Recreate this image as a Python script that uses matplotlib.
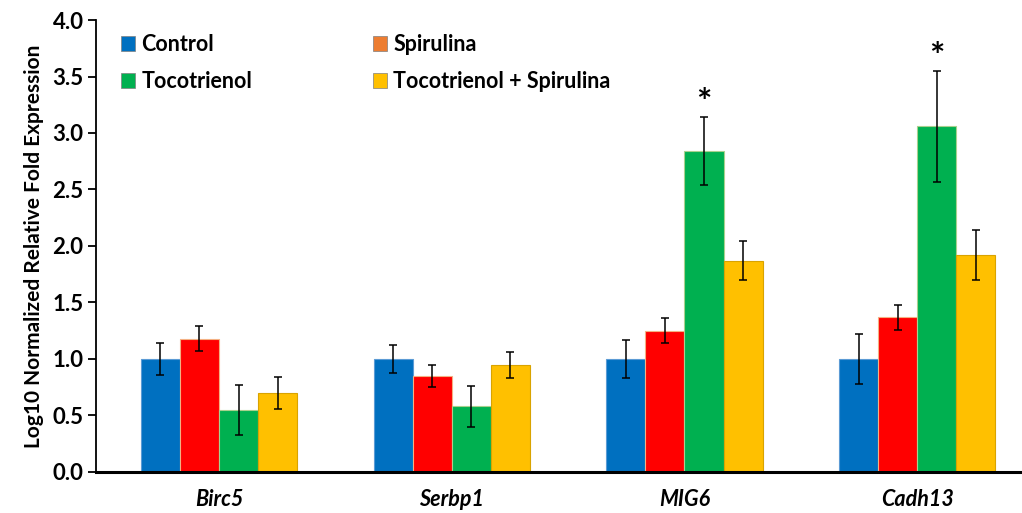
import numpy as np
import matplotlib
matplotlib.use("Agg")
import matplotlib.pyplot as plt
from matplotlib.patches import Patch

plt.rcParams['font.family'] = ['Lato', 'DejaVu Sans']

genes = ['Birc5', 'Serbp1', 'MIG6', 'Cadh13']
groups = ['Control', 'Spirulina', 'Tocotrienol', 'Tocotrienol + Spirulina']

control = [1.00, 1.00, 1.00, 1.00]
control_err = [0.14, 0.12, 0.17, 0.225]
spirulina = [1.18, 0.85, 1.25, 1.37]
spirulina_err = [0.11, 0.10, 0.11, 0.11]
tocotrienol = [0.55, 0.58, 2.84, 3.06]
tocotrienol_err = [0.22, 0.18, 0.30, 0.49]
combo = [0.70, 0.95, 1.87, 1.92]
combo_err = [0.14, 0.115, 0.17, 0.225]

# gene index, group index of the significant bars
stars = [(2, 2), (3, 2)]

bar_colors = ['#0070C0', '#FF0000', '#00B050', '#FFC000']
edge_colors = ['#5B9BD5', '#F4B183', '#A9D18E', '#D9A300']
legend_colors = ['#0070C0', '#ED7D31', '#00B050', '#FFC000']

fig = plt.figure(figsize=(10.22, 5.13), dpi=100)
ax = fig.add_axes([0.094, 0.080, 0.906, 0.881])

x = np.arange(len(genes))
w = 0.168
series = [(control, control_err), (spirulina, spirulina_err),
          (tocotrienol, tocotrienol_err), (combo, combo_err)]

for i, (vals, errs) in enumerate(series):
    pos = x + (i - 1.5) * w
    ax.bar(pos, vals, width=w, color=bar_colors[i], edgecolor=edge_colors[i],
           linewidth=0.8, zorder=2)
    ax.errorbar(pos, vals, yerr=errs, fmt='none', ecolor='black',
                elinewidth=1.1, capsize=3, capthick=1.1, zorder=3)

for g, s in stars:
    vals, errs = series[s]
    ax.text(x[g] + (s - 1.5) * w, vals[g] + errs[g] + 0.12, '*',
            ha='center', va='center', fontsize=26, fontweight='bold')

ax.set_xlim(-0.528, 3.45)
ax.set_ylim(0, 4.0)
ax.set_yticks(np.arange(0, 4.01, 0.5))
ax.set_yticklabels([f'{v:.1f}' for v in np.arange(0, 4.01, 0.5)],
                   fontsize=16, fontweight='bold')
ax.set_xticks(x)
ax.set_xticklabels(genes, fontsize=15.5, fontweight='bold', fontstyle='italic')
ax.tick_params(axis='x', length=0, pad=12)
ax.tick_params(axis='y', direction='out', length=6, width=1.3, pad=3)
ax.set_ylabel('Log10 Normalized Relative Fold Expression', fontsize=15,
              fontweight='bold', labelpad=6)

ax.spines['top'].set_visible(False)
ax.spines['right'].set_visible(False)
ax.spines['left'].set_linewidth(1.3)
ax.spines['bottom'].set_linewidth(2.2)

order = [0, 2, 1, 3]
handles = [Patch(facecolor=legend_colors[i], edgecolor='#7f7f7f', linewidth=0.5)
           for i in order]
labels = [groups[i] for i in order]
ax.legend(handles, labels, ncol=2, loc='upper left', bbox_to_anchor=(0.006, 1.012),
          frameon=False, prop={'weight': 'bold', 'size': 15.5},
          handlelength=0.65, handleheight=0.65, handletextpad=0.3,
          columnspacing=5.6, labelspacing=0.75)

fig.savefig('out.png', dpi=100, facecolor='white')
